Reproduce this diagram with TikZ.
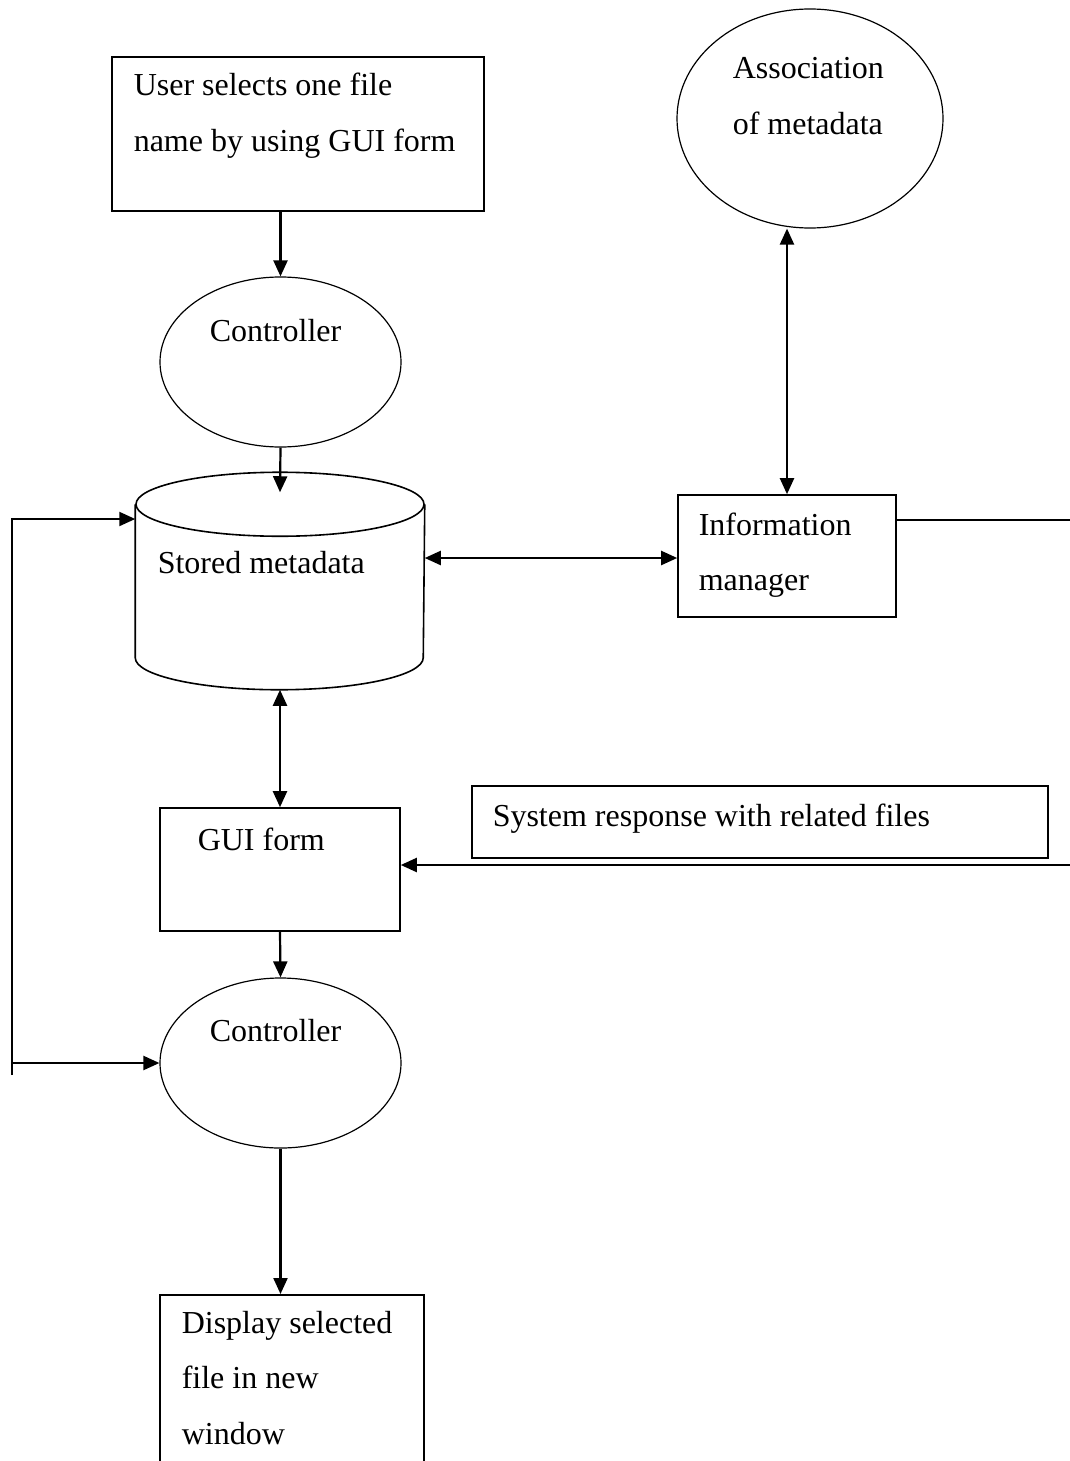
\documentclass[tikz,border=0pt]{standalone}
\usepackage{fontspec}
\setmainfont{Liberation Serif}
\usetikzlibrary{arrows.meta, shapes.geometric}

\begin{document}
\begin{tikzpicture}[
            x = 0.5pt, y = -0.5pt, % one unit = one pixel of the sheet
            > = {Triangle[length=8pt, width=7pt]}, % arrow head style
            line width = 0.75pt
        ]

        \tikzstyle{box}=[
            draw, rectangle,
            inner sep = 0pt,
            line width = 0.8pt
        ]
        \tikzstyle{proc}=[
            draw, ellipse,
            inner sep = 0pt,
            line width = 0.6pt
        ]
        \tikzstyle{txt}=[
            anchor = base west,
            inner sep = 0pt,
            align = flush left, % natural word spaces
            text width = 240pt,
            font = \fontsize{16}{27.75}\selectfont
        ]
        \tikzstyle{flow}=[line width = 1.1pt]

        \useasboundingbox (0,0) rectangle (1070,1461);
        \clip (0,0) rectangle (1070,1461);

        % shapes
        \node[box, minimum width=186pt, minimum height=77pt] (user) at (298,134) {};
        \node[proc, minimum width=120.5pt, minimum height=85pt] (ctrl1) at (280.5,362) {};
        \node[proc, minimum width=133pt, minimum height=109.5pt] (assoc) at (810,118.5) {};
        \node[inner sep=0pt, minimum width=144pt, minimum height=108pt] (store) at (280,581) {};
        \node[box, minimum width=109pt, minimum height=61pt] (info) at (787,556) {};
        \node[box, minimum width=120pt, minimum height=61.5pt] (gui) at (280,869.5) {};
        \node[box, minimum width=288pt, minimum height=36pt] (resp) at (760,822) {};
        \node[proc, minimum width=120.5pt, minimum height=85pt] (ctrl2) at (280.5,1063) {};
        \node[box, minimum width=132pt, minimum height=100pt, anchor=north] (disp) at (292,1294) {};

        % the drum of stored metadata
        \draw[line width=0.8pt] ([yshift=-16pt]store.north) ellipse [x radius=72pt, y radius=16pt];
        \draw[line width=0.8pt] ([yshift=-16pt]store.north west) -- ([yshift=16pt]store.south west)
            arc [start angle=180, end angle=360, x radius=72pt, y radius=16pt]
            -- ([yshift=-16pt]store.north east);

        % texts
        \node[txt] (usertxt) at (133,96) {User selects one file\\name by using GUI form};
        \node[txt] (ctrl1txt) at (209,341) {Controller};
        \node[txt] (assoctxt) at (732,79) {Association\\of metadata};
        \node[txt] (storetxt) at (157,573) {Stored metadata};
        \node[txt] (infotxt) at (698,535) {Information\\manager};
        \node[txt] (guitxt) at (197,850) {GUI form};
        \node[txt] (resptxt) at (492,826) {System response with related files};
        \node[txt] (ctrl2txt) at (209,1041) {Controller};
        \node[txt] (disptxt) at (181,1333) {Display selected\\file in new\\window};

        % free ends
        \coordinate (edge1) at (1070,520);
        \coordinate (edge2) at (1070,865);
        \coordinate (loopb) at (12,1075);
        \coordinate (loopt) at (12,519);

        \draw[flow, ->] (ctrl1.north |- user.south) -- (ctrl1.north);
        \draw[flow, ->] (ctrl1.south) -- ([yshift=-10pt]store.north);
        \draw[flow, <->] ([yshift=-1pt]store.east |- info.west) -- ([yshift=-1pt]info.west);
        \draw[flow, <->] (info.north) -- (info.north |- assoc.south);
        \draw[flow] (info.east |- edge1) -- (edge1);
        \draw[flow, <->] (store.south) -- (gui.north);
        \draw[flow, ->] (edge2) -- (edge2 -| gui.east);
        \draw[flow, ->] (gui.south) -- (ctrl2.north);
        \draw[flow, ->] (ctrl2.south) -- (ctrl2.south |- disp.north);
        \draw[flow, ->] (loopb) -- (loopt) -- (loopt -| store.west);
        \draw[flow, ->] (loopb |- ctrl2.west) -- (ctrl2.west);

  \end{tikzpicture}
\end{document}
